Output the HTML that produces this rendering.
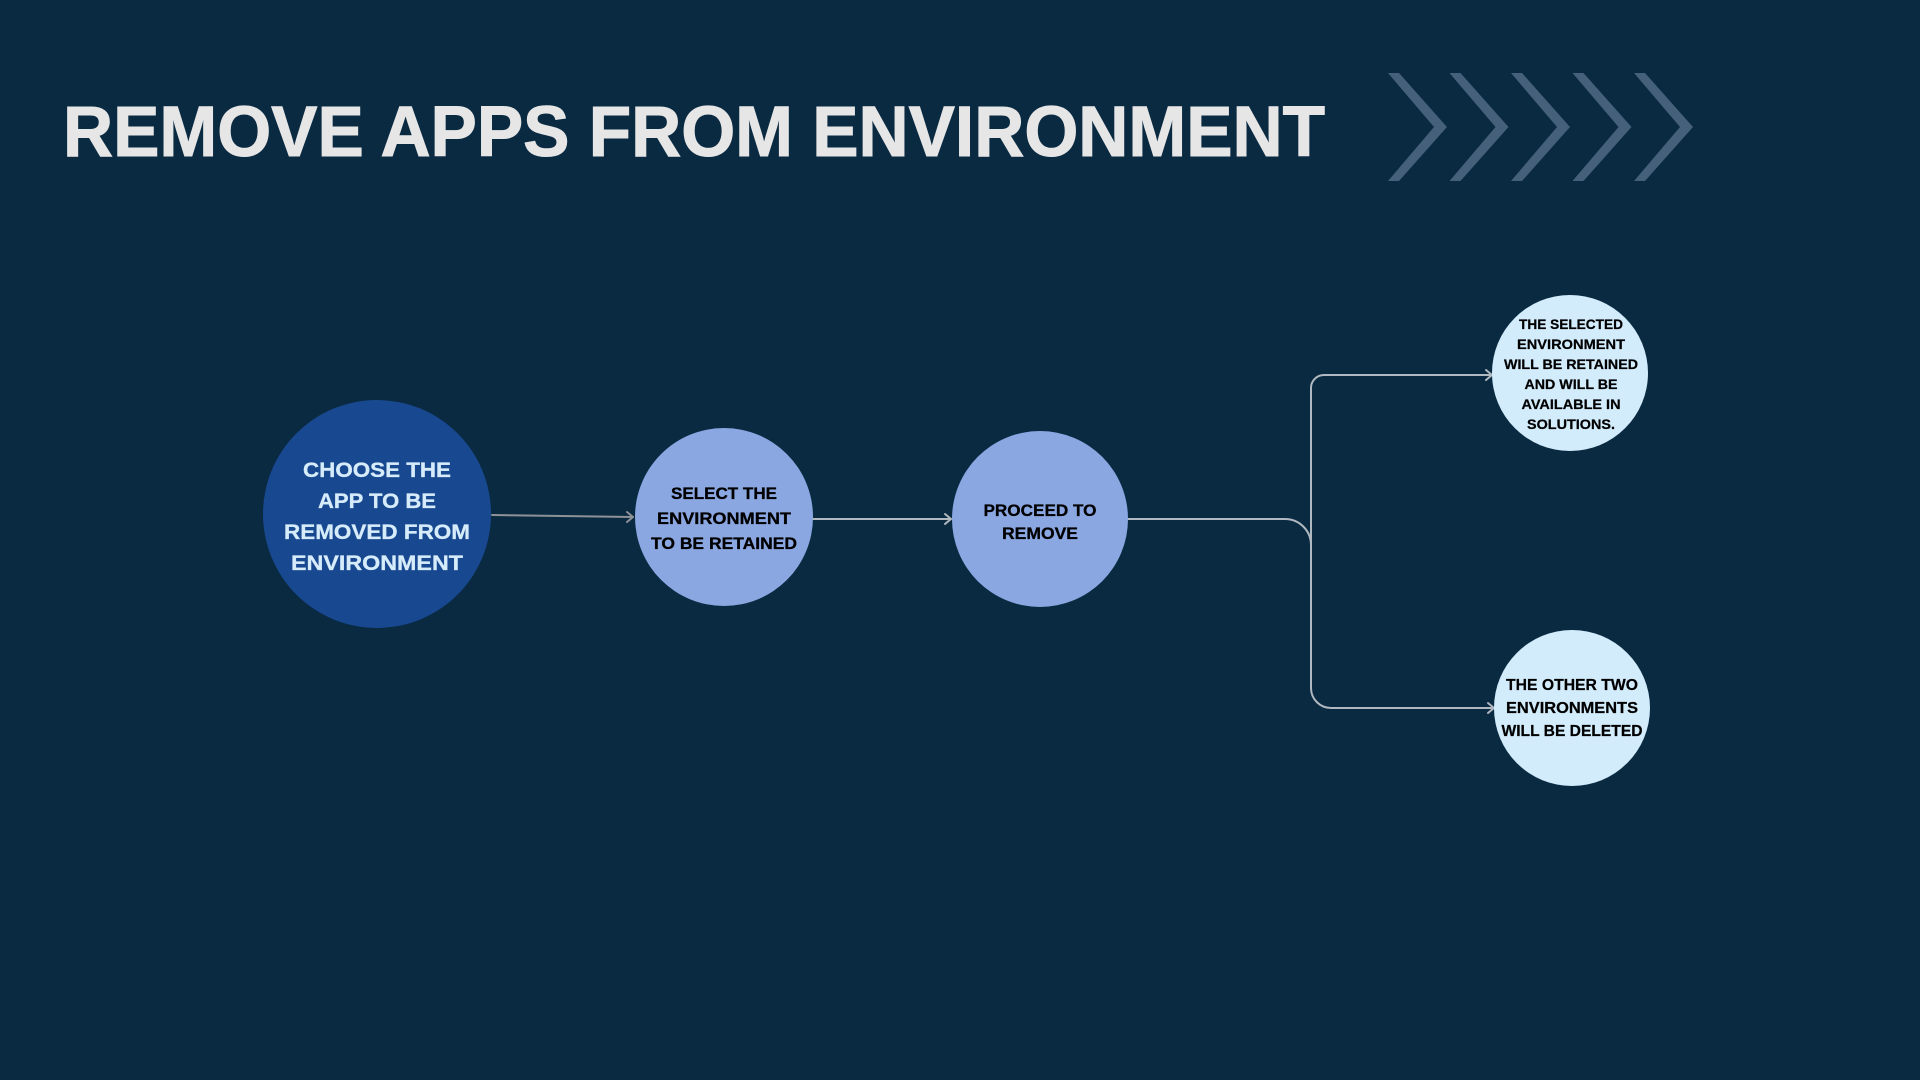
<!DOCTYPE html>
<html>
<head>
<meta charset="utf-8">
<style>
html,body{margin:0;padding:0;background:#0a2a42;}
body{width:1920px;height:1080px;overflow:hidden;}
svg{display:block;}
text{font-family:"Liberation Sans",Arial,sans-serif;font-weight:bold;}
</style>
</head>
<body>
<svg width="1920" height="1080" viewBox="0 0 1920 1080" xmlns="http://www.w3.org/2000/svg">
  <rect x="0" y="0" width="1920" height="1080" fill="#0a2a42"/>

  <!-- Title -->
  <text x="63" y="156" font-size="71" fill="#e6e6e6" stroke="#e6e6e6" stroke-width="1" textLength="1262" lengthAdjust="spacingAndGlyphs">REMOVE APPS FROM ENVIRONMENT</text>

  <!-- Chevrons -->
  <g fill="#44607a">
    <polygon points="1388,73 1399,73 1447,127 1399,181 1388,181 1434,127"/>
    <polygon points="1449.5,73 1460.5,73 1508.5,127 1460.5,181 1449.5,181 1495.5,127"/>
    <polygon points="1511,73 1522,73 1570,127 1522,181 1511,181 1557,127"/>
    <polygon points="1572.5,73 1583.5,73 1631.5,127 1583.5,181 1572.5,181 1618.5,127"/>
    <polygon points="1634,73 1645,73 1693,127 1645,181 1634,181 1680,127"/>
  </g>

  <!-- Connectors -->
  <g fill="none" stroke-width="2" stroke-linecap="round" stroke-linejoin="round">
    <line x1="492" y1="515" x2="633" y2="517" stroke="#8e9298"/>
    <polyline points="627,512 633,517 627,522" stroke="#8e9298"/>

    <line x1="813" y1="519" x2="951" y2="519" stroke="#b0b8c0"/>
    <polyline points="945,514 951,519 945,524" stroke="#b0b8c0"/>

    <path d="M1128 519 H1285 A26 26 0 0 1 1311 545" stroke="#b0b8c0"/>
    <path d="M1311 545 V388 A13 13 0 0 1 1324 375 H1492" stroke="#b0b8c0"/>
    <polyline points="1486,370 1492,375 1486,380" stroke="#b0b8c0"/>
    <path d="M1311 545 V688 A20 20 0 0 0 1331 708 H1494" stroke="#b0b8c0"/>
    <polyline points="1488,703 1494,708 1488,713" stroke="#b0b8c0"/>
  </g>

  <!-- Node 1 -->
  <circle cx="377" cy="514" r="114" fill="#18488f"/>
  <g font-size="21" fill="#d6ecfb" stroke="#d6ecfb" stroke-width="0.3" text-anchor="middle">
    <text x="377" y="477" textLength="148" lengthAdjust="spacingAndGlyphs">CHOOSE THE</text>
    <text x="377" y="508" textLength="118" lengthAdjust="spacingAndGlyphs">APP TO BE</text>
    <text x="377" y="539" textLength="186" lengthAdjust="spacingAndGlyphs">REMOVED FROM</text>
    <text x="377" y="570" textLength="172" lengthAdjust="spacingAndGlyphs">ENVIRONMENT</text>
  </g>

  <!-- Node 2 -->
  <circle cx="724" cy="517" r="89" fill="#8ba7e2"/>
  <g font-size="17" fill="#000" stroke="#000" stroke-width="0.3" text-anchor="middle">
    <text x="724" y="499" textLength="106" lengthAdjust="spacingAndGlyphs">SELECT THE</text>
    <text x="724" y="524" textLength="134" lengthAdjust="spacingAndGlyphs">ENVIRONMENT</text>
    <text x="724" y="549" textLength="146" lengthAdjust="spacingAndGlyphs">TO BE RETAINED</text>
  </g>

  <!-- Node 3 -->
  <circle cx="1040" cy="519" r="88" fill="#8ba7e2"/>
  <g font-size="17" fill="#000" stroke="#000" stroke-width="0.3" text-anchor="middle">
    <text x="1040" y="516" textLength="113" lengthAdjust="spacingAndGlyphs">PROCEED TO</text>
    <text x="1040" y="539" textLength="76" lengthAdjust="spacingAndGlyphs">REMOVE</text>
  </g>

  <!-- Node 4 -->
  <circle cx="1570" cy="373" r="78" fill="#d3ecfc"/>
  <g font-size="14" fill="#000" stroke="#000" stroke-width="0.25" text-anchor="middle">
    <text x="1571" y="329" textLength="104" lengthAdjust="spacingAndGlyphs">THE SELECTED</text>
    <text x="1571" y="349" textLength="108" lengthAdjust="spacingAndGlyphs">ENVIRONMENT</text>
    <text x="1571" y="369" textLength="134" lengthAdjust="spacingAndGlyphs">WILL BE RETAINED</text>
    <text x="1571" y="389" textLength="93" lengthAdjust="spacingAndGlyphs">AND WILL BE</text>
    <text x="1571" y="409" textLength="99" lengthAdjust="spacingAndGlyphs">AVAILABLE IN</text>
    <text x="1571" y="429" textLength="88" lengthAdjust="spacingAndGlyphs">SOLUTIONS.</text>
  </g>

  <!-- Node 5 -->
  <circle cx="1572" cy="708" r="78" fill="#d3ecfc"/>
  <g font-size="16" fill="#000" stroke="#000" stroke-width="0.25" text-anchor="middle">
    <text x="1572" y="690" textLength="132" lengthAdjust="spacingAndGlyphs">THE OTHER TWO</text>
    <text x="1572" y="713" textLength="132" lengthAdjust="spacingAndGlyphs">ENVIRONMENTS</text>
    <text x="1572" y="736" textLength="141" lengthAdjust="spacingAndGlyphs">WILL BE DELETED</text>
  </g>
</svg>
</body>
</html>
